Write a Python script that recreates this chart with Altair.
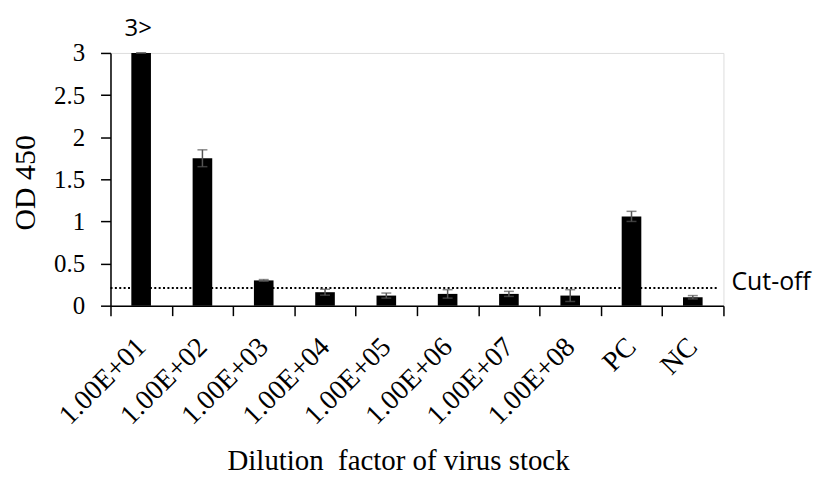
import altair as alt
import pandas as pd

categories = ["1.00E+01", "1.00E+02", "1.00E+03", "1.00E+04", "1.00E+05",
              "1.00E+06", "1.00E+07", "1.00E+08", "PC", "NC"]
od_values = [3.00, 1.75, 0.30, 0.16, 0.12, 0.14, 0.14, 0.12, 1.06, 0.10]
od_errors = [0.00, 0.10, 0.01, 0.035, 0.03, 0.05, 0.03, 0.07, 0.06, 0.02]
cutoff_value = 0.21
cutoff_label = "Cut-off"
top_note = "3>"
x_title = "Dilution\u00a0 factor of virus stock"
y_title = "OD 450"

df = pd.DataFrame({
    "cat": categories,
    "od": od_values,
    "lo": [v - e for v, e in zip(od_values, od_errors)],
    "hi": [v + e for v, e in zip(od_values, od_errors)],
})

W, H = 616, 254
serif = "Liberation Serif"
sans = "Open Sans"

x_axis = alt.Axis(title=x_title,
                  labelAngle=-45, labelAlign="right", labelBaseline="middle",
                  labelPadding=27, labelFontSize=28, labelFont=serif,
                  labelColor="black", tickBand="extent", tickSize=10,
                  tickColor="black", domainColor="black", tickWidth=1.5,
                  domainWidth=1.5,
                  titleFont=serif, titleFontSize=29, titleFontWeight="normal",
                  titleColor="black", titleX=289, titleY=165,
                  titleBaseline="alphabetic", titleAlign="center")
y_axis = alt.Axis(title=y_title, values=[0, 0.5, 1, 1.5, 2, 2.5, 3], format="~g",
                  grid=False, labelFont=serif, labelFontSize=25,
                  labelColor="black", tickSize=10, tickColor="black",
                  tickWidth=1.5, domainWidth=1.5,
                  domainColor="black", labelPadding=16,
                  titleFont=serif, titleFontSize=30, titleFontWeight="normal",
                  titleColor="black", titleX=-70, titleY=130,
                  titleAngle=-90, titleAlign="center", titleBaseline="bottom")

x_scale = alt.Scale(paddingInner=0, paddingOuter=0)
y_scale = alt.Scale(domain=[0, 3], nice=False)


def yq(field):
    return alt.Y(field, scale=y_scale, axis=y_axis)


xe = alt.X("cat:N", sort=categories, scale=x_scale, axis=x_axis)

base = alt.Chart(df)

cut = alt.Chart(pd.DataFrame({"y": [cutoff_value], "t": [cutoff_label]}))
cut_line = cut.mark_rule(color="black", strokeWidth=2.2, strokeDash=[2, 2.4]).encode(
    y=yq("y:Q"), x=alt.value(0), x2=alt.value(W - 5))
cut_text = cut.mark_text(font=sans, fontSize=25, align="left", baseline="alphabetic",
                         dx=3, dy=2, color="black").encode(
    y=yq("y:Q"), x=alt.value(W + 5), text="t:N")

bars = base.mark_bar(color="black", width=alt.RelativeBandSize(0.32)).encode(
    x=xe, y=yq("od:Q"))
err = base.mark_rule(color="#555555", strokeWidth=1.5).encode(
    x=xe, y=yq("lo:Q"), y2="hi:Q")
cap_hi = base.mark_tick(color="#555555", thickness=1.5, size=10).encode(
    x=xe, y=yq("hi:Q"))
cap_lo = base.mark_tick(color="#555555", thickness=1.5, size=10).encode(
    x=xe, y=yq("lo:Q"))

note = alt.Chart(pd.DataFrame({"cat": [categories[0]], "od": [od_values[0]], "t": [top_note]}))
note_text = note.mark_text(font=sans, fontSize=24, baseline="alphabetic", dy=-17, dx=-3,
                           color="black").encode(
    x=xe, y=yq("od:Q"), text="t:N")

chart = alt.layer(cut_line, cut_text, bars, err, cap_hi, cap_lo, note_text).properties(
    width=W, height=H,
    autosize=alt.AutoSizeParams(type="none"),
    padding={"left": 103, "top": 44, "right": 90, "bottom": 171},
).configure_view(strokeWidth=0).configure_axis(
    titleFont=serif, labelFont=serif, titleFontWeight="normal"
).configure(background="white")

chart.save("out.html", embed_options={"renderer": "svg", "actions": False})
